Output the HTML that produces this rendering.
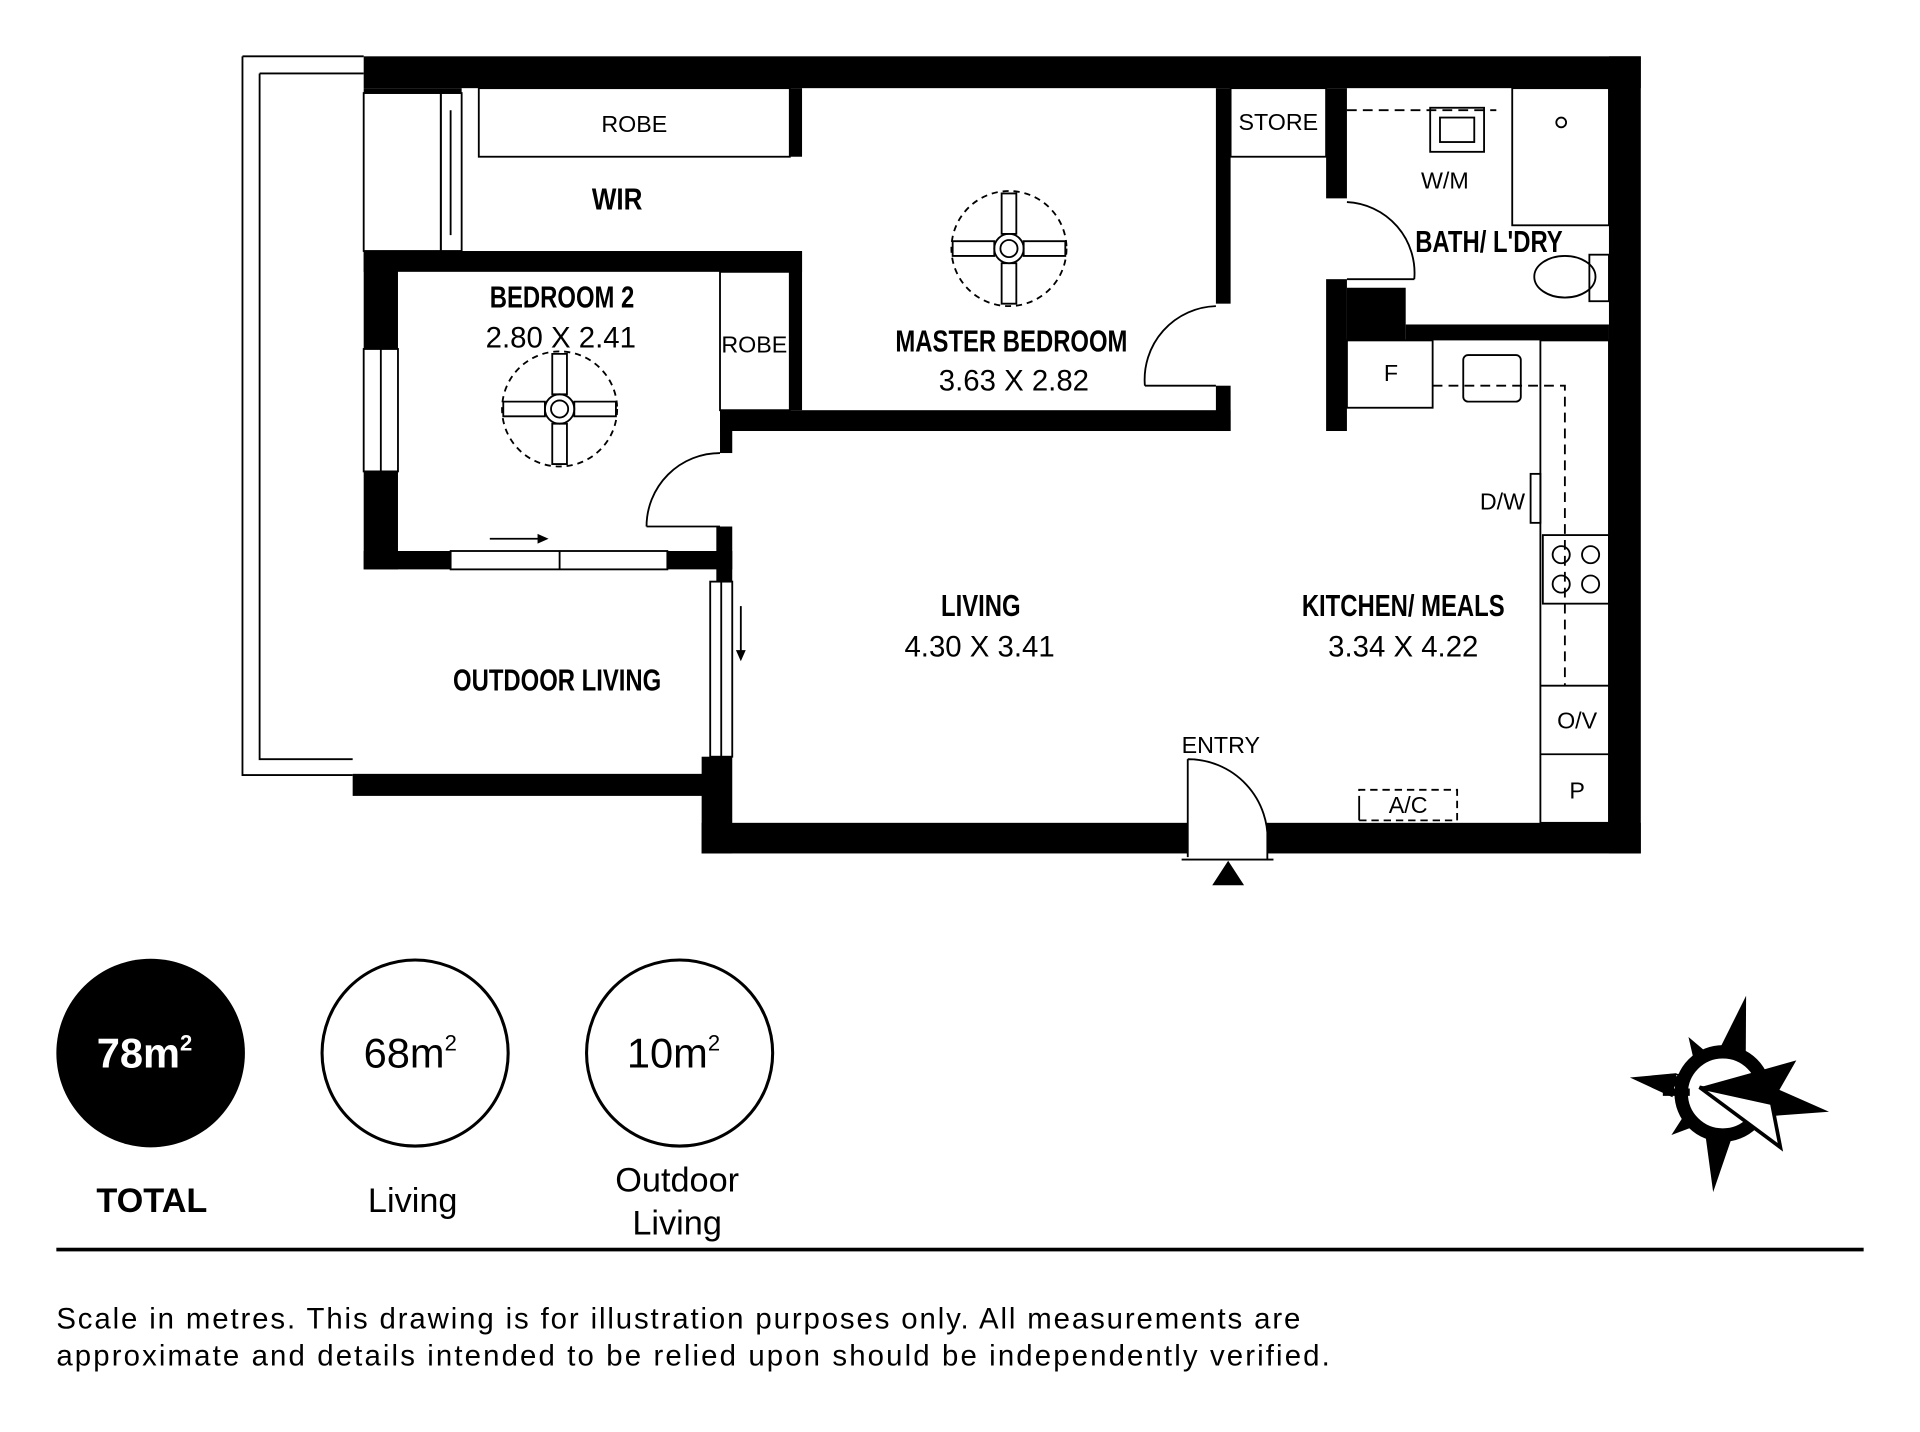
<!DOCTYPE html>
<html><head><meta charset="utf-8"><style>
html,body{margin:0;padding:0;background:#fff}
svg{display:block}
.rn{font-family:"Liberation Sans",sans-serif;font-weight:bold;font-size:25px}
.dm{font-family:"Liberation Sans",sans-serif;font-size:24px}
.sm{font-family:"Liberation Sans",sans-serif;font-size:19px}
</style></head><body>
<svg width="1920" height="1432" viewBox="0 0 1568 1169.5" xmlns="http://www.w3.org/2000/svg">
<rect width="1568" height="1170" fill="#fff"/>
<path d="M198 46 H297 M198 46 V633 H288 M212 60 H297 M212 60 V620 H288" stroke="#000" stroke-width="1.5" fill="none"/>
<g fill="#000">
<rect x="297" y="46" width="1043" height="26"/>
<rect x="1314" y="46" width="26" height="651"/>
<rect x="573" y="672" width="397" height="25"/>
<rect x="1035" y="672" width="305" height="25"/>
<rect x="573" y="618" width="25" height="79"/>
<rect x="297" y="205" width="28" height="80"/>
<rect x="297" y="385" width="28" height="80"/>
<rect x="297" y="205" width="358" height="17"/>
<rect x="297" y="450" width="71" height="15"/>
<rect x="545" y="450" width="53" height="15"/>
<rect x="585" y="430" width="13" height="45"/>
<rect x="645" y="72" width="10" height="56"/>
<rect x="645" y="205" width="10" height="130"/>
<rect x="588" y="335" width="417" height="17"/>
<rect x="588" y="335" width="10" height="35"/>
<rect x="993" y="72" width="12" height="176"/>
<rect x="993" y="315" width="12" height="37"/>
<rect x="1083" y="72" width="17" height="90"/>
<rect x="1083" y="228" width="17" height="124"/>
<rect x="1100" y="235" width="48" height="43"/>
<rect x="1148" y="265" width="166" height="13"/>
<rect x="288" y="632" width="292" height="18"/>
<rect x="297" y="72" width="80" height="4"/>
</g>
<g stroke="#000" stroke-width="1.5" fill="none">
<rect x="297" y="76" width="63" height="129"/>
<rect x="360" y="76" width="17" height="129"/><line x1="368" y1="90" x2="368" y2="192"/>
<rect x="297" y="285" width="28" height="100"/><line x1="311" y1="285" x2="311" y2="385"/>
<rect x="368" y="450" width="177" height="15"/><line x1="457" y1="450" x2="457" y2="465"/>
<rect x="580" y="475" width="18" height="143"/><line x1="589" y1="475" x2="589" y2="618"/>
<rect x="391" y="72" width="254" height="56"/>
<rect x="588" y="222" width="57" height="113"/>
<rect x="1005" y="72" width="78" height="56"/>
<path d="M528 430 A60 60 0 0 1 588 370 M528 430 H588"/>
<path d="M935 315 A60 60 0 0 1 993 250 M935 315 H993"/>
<path d="M1100 165 A58 58 0 0 1 1155 228 M1100 228 H1155"/>
<path d="M970 620 A65 65 0 0 1 1035 690 M970 620 V700 M965 702 H1040 M1035 672 V702"/>
<rect x="1258" y="278" width="56" height="394"/>
<line x1="1258" y1="560" x2="1314" y2="560"/><line x1="1258" y1="616" x2="1314" y2="616"/>
<rect x="1260" y="437" width="54" height="56"/>
<circle cx="1275" cy="453" r="7"/><circle cx="1299" cy="453" r="7"/><circle cx="1275" cy="477" r="7"/><circle cx="1299" cy="477" r="7"/>
<rect x="1250" y="387" width="8" height="40"/>
<rect x="1100" y="278" width="70" height="55"/>
<rect x="1195" y="290" width="47" height="38" rx="4"/>
<rect x="1235" y="72" width="79" height="112"/>
<circle cx="1275" cy="100" r="4"/>
<rect x="1168" y="88" width="44" height="36"/><rect x="1176" y="96" width="28" height="20"/>
<ellipse cx="1278" cy="226" rx="25" ry="17"/><rect x="1298" y="208" width="16" height="38"/>
<path d="M1110 656 V645 H1190 V670 H1110 Z M1110 656 V670" stroke-dasharray="6 4"/>
<path d="M1100 90 H1222 M1170 315 H1278 V560" stroke-dasharray="8 5"/>
<line x1="400" y1="440" x2="445" y2="440"/><line x1="605" y1="495" x2="605" y2="538"/>
</g>
<path d="M448 440 l-9 -4 v8 z M605 540 l-4 -9 h8 z M1003 703 l-13 20 h26 z" fill="#000"/>
<g stroke="#000" fill="none" stroke-width="1.5">
<circle cx="824" cy="203" r="47" stroke-dasharray="5 4"/>
<circle cx="824" cy="203" r="12"/><circle cx="824" cy="203" r="7"/>
<path d="M818 158 h12 v33 h-12 z M818 215 h12 v33 h-12 z M778 197 h34 v12 h-34 z M836 197 h34 v12 h-34 z"/>
<circle cx="457" cy="334" r="47" stroke-dasharray="5 4"/>
<circle cx="457" cy="334" r="12"/><circle cx="457" cy="334" r="7"/>
<path d="M451 289 h12 v33 h-12 z M451 346 h12 v33 h-12 z M411 328 h34 v12 h-34 z M469 328 h34 v12 h-34 z"/>
</g>
<g text-anchor="middle">
<text class="sm" x="518" y="108">ROBE</text>
<text class="rn" x="504" y="171" transform="translate(504 0) scale(0.85 1) translate(-504 0)">WIR</text>
<text class="sm" x="1044" y="106">STORE</text>
<text class="sm" x="1180" y="154">W/M</text>
<text class="rn" x="1216" y="206" transform="translate(1216 0) scale(0.78 1) translate(-1216 0)">BATH/ L'DRY</text>
<text class="rn" x="459" y="251" transform="translate(459 0) scale(0.78 1) translate(-459 0)">BEDROOM 2</text>
<text class="dm" x="458" y="284">2.80 X 2.41</text>
<text class="sm" x="616" y="288">ROBE</text>
<text class="rn" x="826" y="287" transform="translate(826 0) scale(0.78 1) translate(-826 0)">MASTER BEDROOM</text>
<text class="dm" x="828" y="319">3.63 X 2.82</text>
<text class="sm" x="1136" y="311">F</text>
<text class="sm" x="1227" y="416">D/W</text>
<text class="rn" x="801" y="503" transform="translate(801 0) scale(0.78 1) translate(-801 0)">LIVING</text>
<text class="dm" x="800" y="536">4.30 X 3.41</text>
<text class="rn" x="1146" y="503" transform="translate(1146 0) scale(0.78 1) translate(-1146 0)">KITCHEN/ MEALS</text>
<text class="dm" x="1146" y="536">3.34 X 4.22</text>
<text class="rn" x="455" y="564" transform="translate(455 0) scale(0.78 1) translate(-455 0)">OUTDOOR LIVING</text>
<text class="sm" x="1288" y="595">O/V</text>
<text class="sm" x="997" y="615">ENTRY</text>
<text class="sm" x="1150" y="664">A/C</text>
<text class="sm" x="1288" y="652">P</text>
</g>
<circle cx="123" cy="860" r="77" fill="#000"/>
<circle cx="339" cy="860" r="76" fill="none" stroke="#000" stroke-width="2.5"/>
<circle cx="555" cy="860" r="76" fill="none" stroke="#000" stroke-width="2.5"/>
<g font-family="Liberation Sans,sans-serif" text-anchor="middle">
<text x="118" y="872" font-size="34" font-weight="bold" fill="#fff">78m<tspan font-size="18" dy="-14">2</tspan></text>
<text x="335" y="872" font-size="34">68m<tspan font-size="18" dy="-14">2</tspan></text>
<text x="550" y="872" font-size="34">10m<tspan font-size="18" dy="-14">2</tspan></text>
<text x="124" y="990" font-size="28" font-weight="bold">TOTAL</text>
<text x="337" y="990" font-size="28">Living</text>
<text x="553" y="973" font-size="28">Outdoor</text>
<text x="553" y="1008" font-size="28">Living</text>
</g>
<rect x="46" y="1019" width="1476" height="3" fill="#000"/>
<text x="46" y="1085" font-family="Liberation Sans,sans-serif" font-size="24" textLength="1016" lengthAdjust="spacing">Scale in metres. This drawing is for illustration purposes only. All measurements are</text>
<text x="46" y="1115" font-family="Liberation Sans,sans-serif" font-size="24" textLength="1040" lengthAdjust="spacing">approximate and details intended to be relied upon should be independently verified.</text>
<g transform="translate(1407 893)" fill="#000">
<path transform="rotate(13.4)" d="M0 -82 L13 -26 L-13 -26 Z"/>
<path transform="rotate(185.6)" d="M0 -81 L13 -26 L-13 -26 Z"/>
<path transform="rotate(279.7)" d="M0 -77 L10 -40 L-10 -40 Z"/>
<path transform="rotate(99.8)" d="M0 -88 L13 -36 L-13 -36 Z"/>
<path transform="rotate(-31.3)" d="M0 -54 L8 -30 L-8 -30 Z"/>
<path transform="rotate(-129)" d="M0 -54 L8 -30 L-8 -30 Z"/>
<circle r="34" fill="#fff" stroke="#000" stroke-width="11"/>
</g>
<path d="M1364 877 h14 l-12 12 h14 v6 h-22 v-5 l12 -12 h-6 z" fill="#000"/>
<path d="M1388 888 L1447 901 L1454 937 Z" fill="#fff" stroke="#000" stroke-width="3" stroke-linejoin="miter"/>
<path d="M1388 888 L1467 866 L1447 901 Z" fill="#000"/>
</svg>
</body></html>
